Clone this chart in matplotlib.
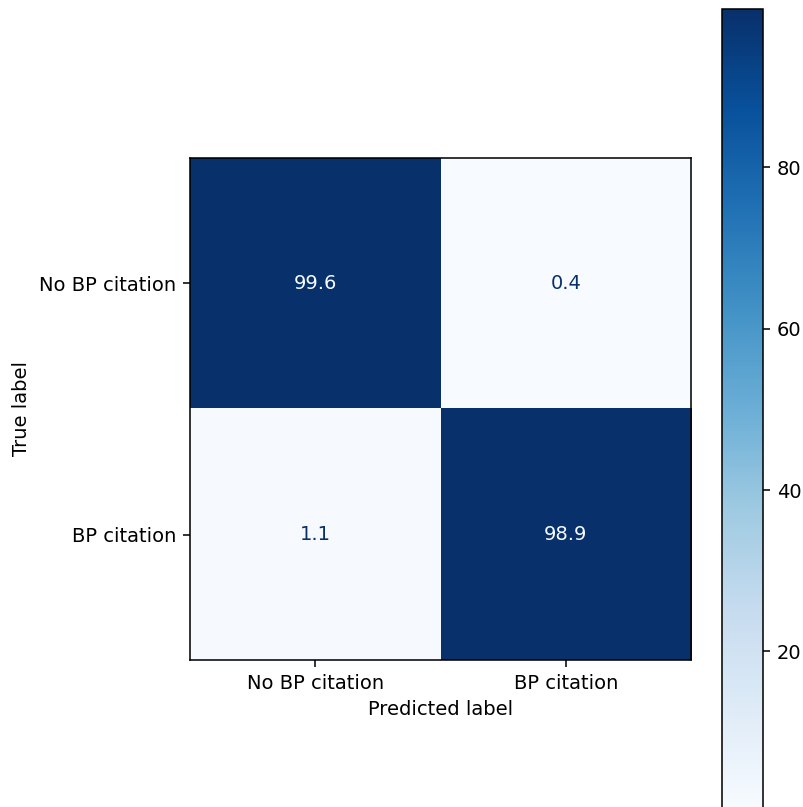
import numpy as np
import matplotlib
matplotlib.use("Agg")
import matplotlib.pyplot as plt

# confusion matrix (percent)
labels = ["No BP citation", "BP citation"]
cm = np.array([[99.6, 0.4],
               [1.1, 98.9]])

dpi = 140
fig = plt.figure(figsize=(803 / dpi, 807 / dpi), dpi=dpi)
ax = fig.add_axes([190 / 803, 1 - 660 / 807, 501 / 803, 502 / 807])
cax = fig.add_axes([722 / 803, (807 - 809.6) / 807, 41 / 803, (809.6 - 9) / 807])

cmap = plt.cm.Blues
im = ax.imshow(cm, interpolation="nearest", cmap=cmap, aspect="auto")
fig.colorbar(im, cax=cax)

# text colour flips at the middle of the range, like sklearn does
thresh = (cm.max() + cm.min()) / 2.0
cmap_min, cmap_max = cmap(0), cmap(1.0)
for i in range(cm.shape[0]):
    for j in range(cm.shape[1]):
        color = cmap_min if cm[i, j] > thresh else cmap_max
        ax.text(j, i, format(cm[i, j], ".1f"), ha="center", va="center", color=color)

ax.set_xticks(np.arange(len(labels)))
ax.set_yticks(np.arange(len(labels)))
ax.set_xticklabels(labels)
ax.set_yticklabels(labels)
ax.set_xlabel("Predicted label")
ax.set_ylabel("True label")
ax.set_xlim(-0.5, 1.5)
ax.set_ylim(1.5, -0.5)

fig.savefig("out.png", dpi=dpi)
